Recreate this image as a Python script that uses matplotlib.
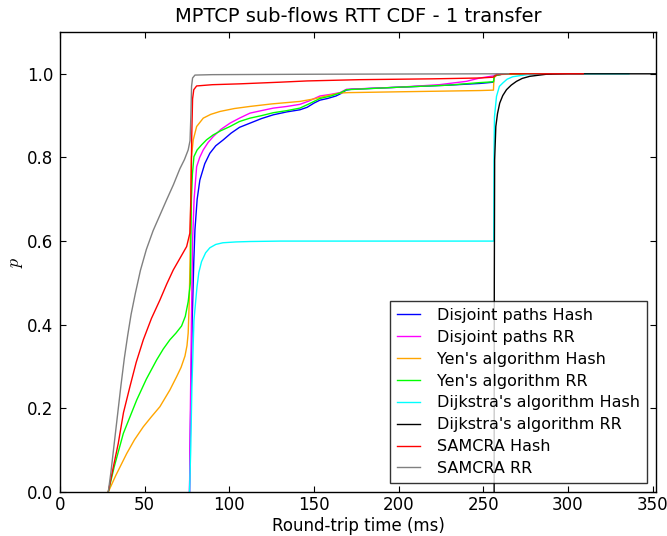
import matplotlib
matplotlib.use("Agg")
import matplotlib.pyplot as plt

# ---- data ----
labels = ["Disjoint paths Hash", "Disjoint paths RR", "Yen's algorithm Hash",
          "Yen's algorithm RR", "Dijkstra's algorithm Hash", "Dijkstra's algorithm RR",
          "SAMCRA Hash", "SAMCRA RR"]
colors = ["blue", "magenta", "orange", "lime", "cyan", "black", "red", "gray"]

disjoint_hash_x = [76.5, 77.2, 78.0, 79.0, 79.7, 81.0, 82.6, 85.5, 88.5, 92, 96.4, 101, 106, 112.2, 119,
                   126, 134, 141.7, 146, 150, 153.5, 158, 163, 166, 169, 172, 200, 230, 248, 256, 256.5, 262, 290]
disjoint_hash_y = [0, 0.2, 0.4, 0.55, 0.627, 0.70, 0.746, 0.785, 0.81, 0.828, 0.842, 0.858, 0.872, 0.882, 0.893,
                   0.902, 0.909, 0.914, 0.92, 0.93, 0.937, 0.941, 0.947, 0.953, 0.961, 0.963, 0.968, 0.973, 0.977, 0.98, 0.995, 1.0, 1.0]

disjoint_rr_x = [76.5, 77.0, 77.6, 78.3, 79.2, 80.7, 82.5, 84.6, 87.5, 90.5, 95, 100.4, 106, 112.2, 119, 126, 134,
                 141.7, 147, 153.5, 160, 165.3, 169.2, 200, 224, 240, 248, 256, 258, 285]
disjoint_rr_y = [0, 0.2, 0.4, 0.6, 0.7, 0.778, 0.80, 0.818, 0.836, 0.85, 0.867, 0.882, 0.894, 0.906, 0.912, 0.918, 0.922,
                 0.927, 0.935, 0.947, 0.951, 0.955, 0.963, 0.968, 0.974, 0.982, 0.99, 0.995, 1.0, 1.0]

yen_hash_x = [28.5, 33, 39.4, 44, 49.2, 54, 59, 64.9, 68.9, 71.5, 73.8, 75, 75.7, 76.3, 76.8, 77.2, 77.6, 78.7, 80.7,
              84.6, 89, 94.5, 103, 112.2, 125, 141.7, 150, 158, 165.3, 170, 200, 248, 256, 256.3, 258, 270, 280]
yen_hash_y = [0, 0.04, 0.092, 0.125, 0.156, 0.18, 0.204, 0.244, 0.276, 0.298, 0.325, 0.35, 0.38, 0.451, 0.55, 0.7, 0.8,
              0.842, 0.874, 0.894, 0.903, 0.91, 0.917, 0.922, 0.928, 0.934, 0.94, 0.948, 0.954, 0.955, 0.957, 0.96, 0.961,
              0.99, 0.998, 1.0, 1.0]

yen_rr_x = [28.5, 32, 37.4, 45.3, 51, 57.1, 61, 64.9, 68.5, 71.8, 74, 75.7, 77.0, 77.3, 77.6, 78.2, 79.1, 81, 83.6, 86.5,
            90.5, 95, 100.4, 106, 112.2, 119, 126, 134, 141.7, 147, 153.5, 160, 165.3, 169.2, 200, 230, 248, 256, 256.5,
            262, 290]
yen_rr_y = [0, 0.06, 0.14, 0.22, 0.27, 0.316, 0.342, 0.364, 0.38, 0.397, 0.42, 0.455, 0.5, 0.6, 0.7, 0.76, 0.802, 0.818,
            0.830, 0.842, 0.854, 0.864, 0.874, 0.886, 0.894, 0.9, 0.907, 0.912, 0.918, 0.928, 0.941, 0.947, 0.954, 0.962,
            0.968, 0.973, 0.979, 0.981, 0.995, 1.0, 1.0]

dijkstra_hash_x = [76.5, 77.2, 77.9, 79.1, 80.9, 82, 83.6, 86, 88.5, 92, 96.2, 104, 112.2, 130, 256.2, 256.3, 256.6,
                   257.8, 259.5, 261.5, 264, 267.4, 275.7, 290, 336]
dijkstra_hash_y = [0, 0.1, 0.25, 0.41, 0.49, 0.525, 0.551, 0.572, 0.584, 0.592, 0.596, 0.598, 0.599, 0.6, 0.6, 0.8, 0.897,
                   0.946, 0.97, 0.978, 0.987, 0.993, 0.998, 1.0, 1.0]

dijkstra_rr_x = [256.4, 256.5, 256.7, 257.4, 258.4, 259.7, 261.5, 263.7, 266.5, 269.6, 273, 277.4, 287.3, 300, 360]
dijkstra_rr_y = [0, 0.5, 0.794, 0.874, 0.905, 0.93, 0.948, 0.962, 0.973, 0.982, 0.989, 0.994, 0.999, 1.0, 1.0]

samcra_hash_x = [28.5, 31, 34.4, 37.5, 41.3, 45, 49.2, 54, 59, 63, 66.9, 71, 74.8, 76.7, 77.3, 77.8, 78.3, 79, 80.7, 90,
                 106, 130, 146, 177, 220, 248, 256, 258, 265, 309]
samcra_hash_y = [0, 0.05, 0.116, 0.19, 0.252, 0.31, 0.364, 0.415, 0.459, 0.497, 0.531, 0.56, 0.587, 0.619, 0.7, 0.85,
                 0.94, 0.962, 0.971, 0.974, 0.976, 0.98, 0.983, 0.986, 0.988, 0.99, 0.992, 0.998, 1.0, 1.0]

samcra_rr_x = [28.5, 30, 32, 34, 36, 38, 40, 42, 44.5, 47.5, 51, 55, 59, 63, 67, 70.8, 73.5, 75.7, 76.8, 77.3, 77.7,
               78.3, 79.7, 90, 150, 250, 265]
samcra_rr_y = [0, 0.045, 0.115, 0.185, 0.255, 0.32, 0.375, 0.425, 0.475, 0.53, 0.58, 0.625, 0.662, 0.699, 0.735, 0.773,
               0.795, 0.818, 0.84, 0.9, 0.97, 0.99, 0.997, 0.998, 0.999, 1.0, 1.0]

series_x = [disjoint_hash_x, disjoint_rr_x, yen_hash_x, yen_rr_x, dijkstra_hash_x, dijkstra_rr_x, samcra_hash_x, samcra_rr_x]
series_y = [disjoint_hash_y, disjoint_rr_y, yen_hash_y, yen_rr_y, dijkstra_hash_y, dijkstra_rr_y, samcra_hash_y, samcra_rr_y]

x_ticks = [0, 50, 100, 150, 200, 250, 300, 350]
y_ticks = [0.0, 0.2, 0.4, 0.6, 0.8, 1.0]

# ---- plot ----
plt.rcParams['font.family'] = ['DejaVu Sans']
plt.rcParams['mathtext.fontset'] = 'cm'
fig = plt.figure(figsize=(6.67, 5.36), dpi=100, facecolor='white')
ax = fig.add_axes([60/667, 44/536, 596/667, 460/536])

for xs, ys, c, lab in zip(series_x, series_y, colors, labels):
    ax.plot(xs, ys, color=c, lw=1.0, label=lab)

ax.set_xlim(0, 352)
ax.set_ylim(0, 1.1)
ax.set_xticks(x_ticks)
ax.set_yticks(y_ticks)
ax.set_yticklabels([f"{v:.1f}" for v in y_ticks])
ax.tick_params(direction='in', top=True, right=True, length=4, width=0.8, labelsize=12)
ax.tick_params(axis='x', pad=3)
ax.tick_params(axis='y', pad=5)
for s in ax.spines.values():
    s.set_linewidth(1.0)

ax.set_xlabel("Round-trip time (ms)", fontsize=12, labelpad=2)
ax.set_ylabel("$p$", fontsize=13, labelpad=1)
ax.set_title("MPTCP sub-flows RTT CDF - 1 transfer", fontsize=14, pad=7)

leg = ax.legend(loc='lower right', fontsize=11.5, frameon=True, fancybox=False,
                edgecolor='black', handlelength=1.45, handletextpad=1.05, borderpad=0.45,
                borderaxespad=0.55, labelspacing=0.43)
leg.get_frame().set_linewidth(1.0)

fig.savefig("out.png", dpi=100, facecolor='white')
